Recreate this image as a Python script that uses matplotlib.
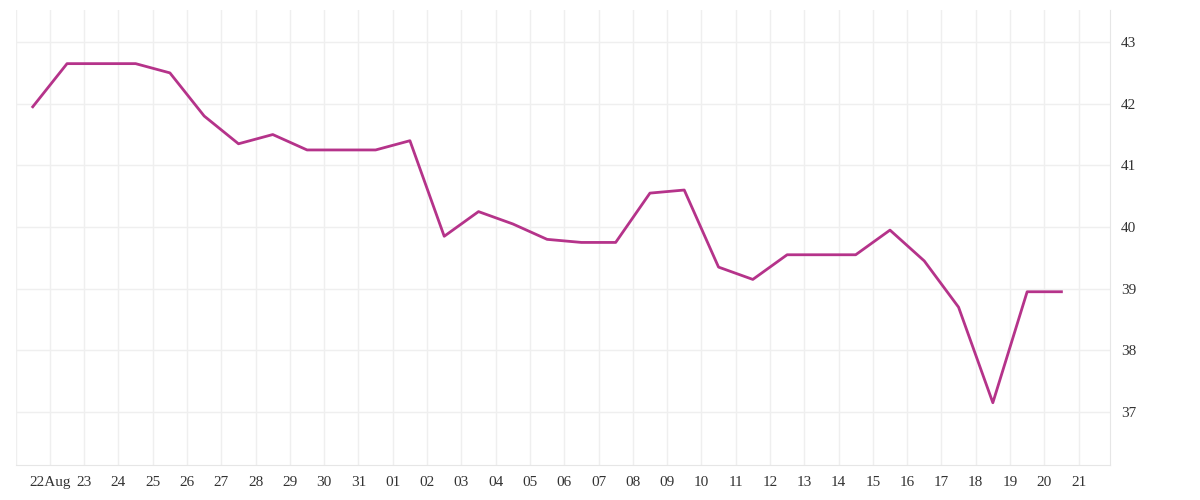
import matplotlib
matplotlib.use("Agg")
import matplotlib.pyplot as plt
import numpy as np
import pandas as pd

dates = pd.date_range("2023-08-21 12:00", "2023-09-20 12:00", freq="D")
values = [41.95, 42.65, 42.65, 42.65, 42.5, 41.8, 41.35, 41.5, 41.25, 41.25,
          41.25, 41.4, 39.85, 40.25, 40.05, 39.8, 39.75, 39.75, 40.55, 40.6,
          39.35, 39.15, 39.55, 39.55, 39.55, 39.95, 39.45, 38.7, 37.15, 38.95, 38.95]
ticks = pd.date_range("2023-08-22", "2023-09-21", freq="D")
tick_labels = ["22Aug"] + [d.strftime("%d") for d in ticks[1:]]

plt.rcParams["font.family"] = ["Liberation Serif", "DejaVu Serif"]
fig = plt.figure(figsize=(12, 5), dpi=100)
ax = fig.add_axes([0.013, 0.07, 0.912, 0.91])
ax.plot(dates, values, color="#b5338a", lw=2)

ax.set_xlim(pd.Timestamp("2023-08-21"), pd.Timestamp("2023-09-21 22:00"))
ax.set_ylim(36.14, 43.52)
ax.set_xticks(ticks)
ax.set_xticklabels(tick_labels)
ax.set_xticks(pd.date_range("2023-08-21", "2023-09-21", freq="D"), minor=True)
ax.set_yticks(np.arange(37, 44))
ax.yaxis.tick_right()
ax.grid(True, which="both", color="#efefef", lw=1)
ax.tick_params(which="both", length=0, labelsize=11, colors="#333333", pad=8)
for s in ["top", "left"]:
    ax.spines[s].set_visible(False)
for s in ["bottom", "right"]:
    ax.spines[s].set_color("#e6e6e6")
fig.savefig("out.png")
